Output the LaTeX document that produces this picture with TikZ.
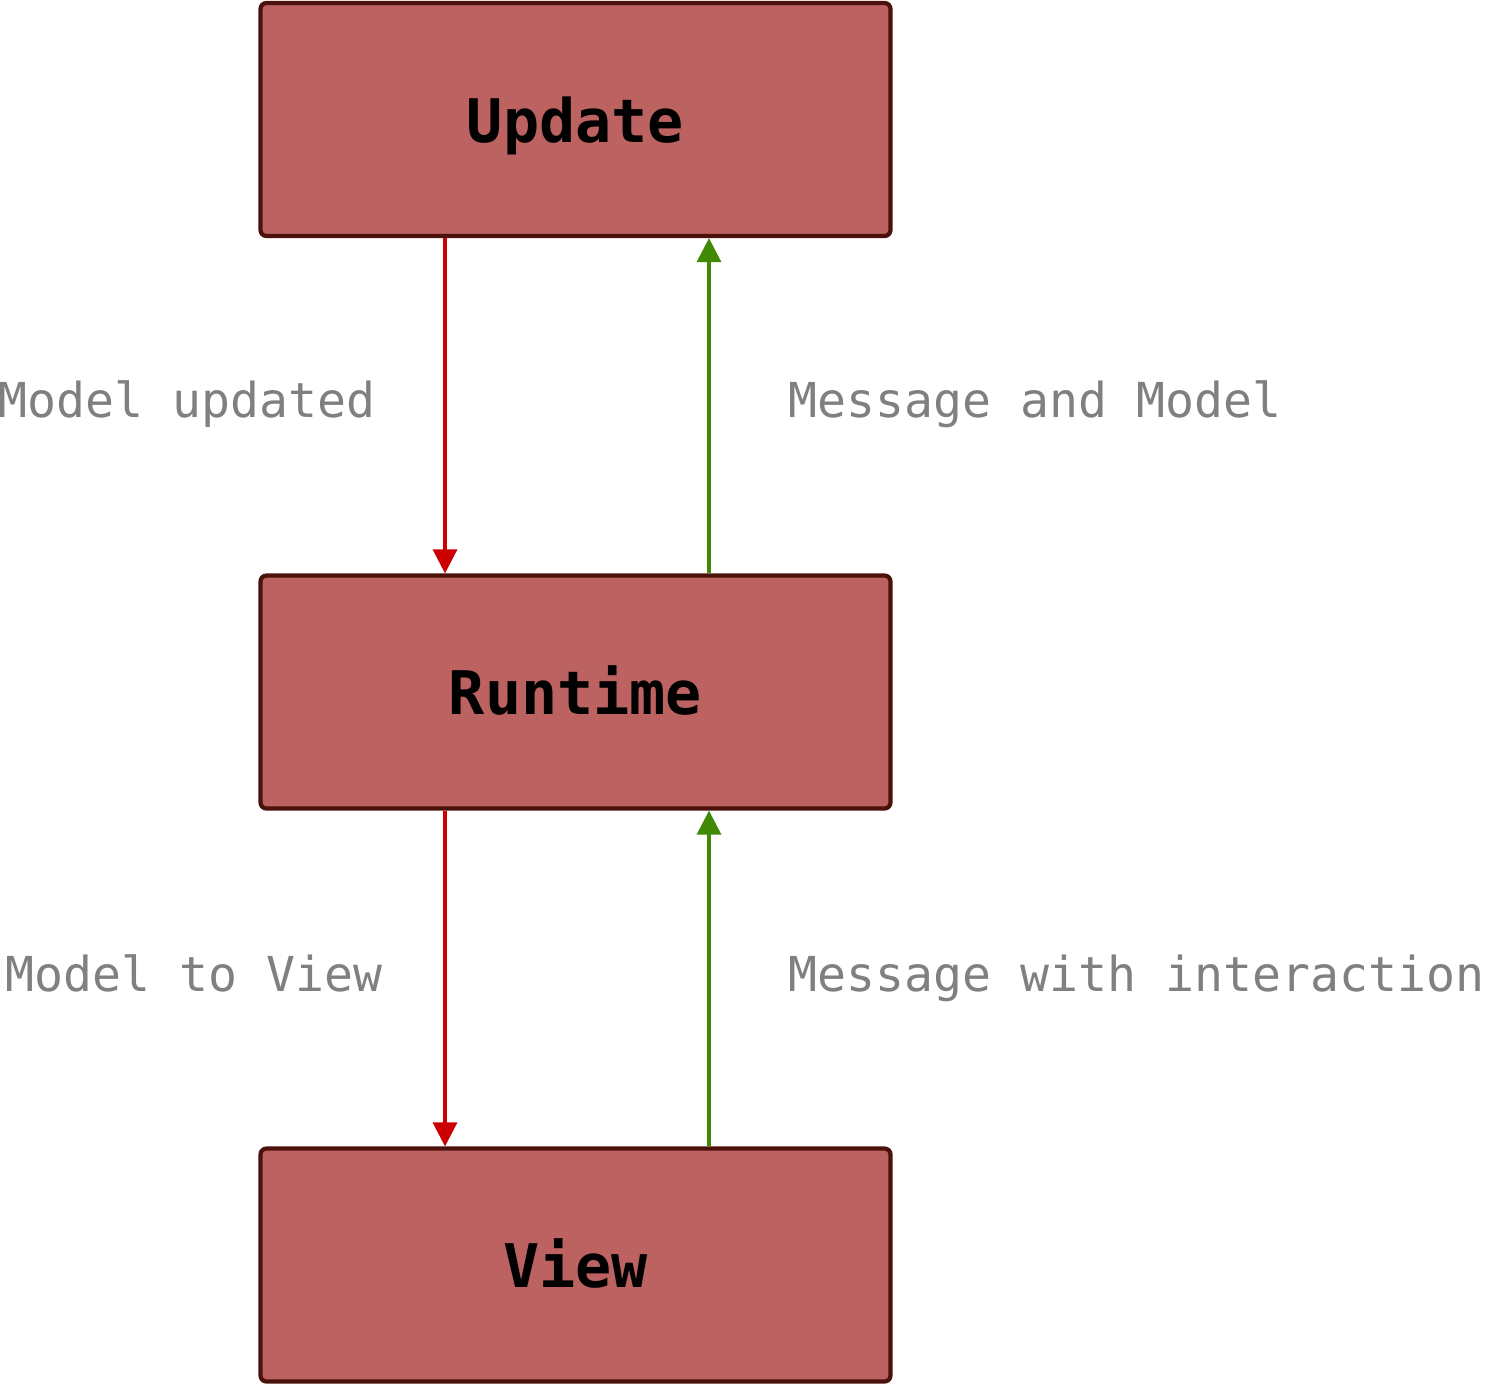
\documentclass[tikz,border=0pt]{standalone}
\usepackage{fontspec}
\setmonofont{DejaVu Sans Mono}
\usetikzlibrary{arrows.meta}
\definecolor{boxfill}{RGB}{188,98,96}
\definecolor{boxline}{RGB}{74,18,10}
\definecolor{downred}{RGB}{204,0,0}
\definecolor{upgreen}{RGB}{64,137,4}
\definecolor{labelgray}{RGB}{128,128,128}
\begin{document}
\begin{tikzpicture}[
	stage/.style={draw=boxline, fill=boxfill, line width=1.2pt, rounded corners=0.06cm,
		minimum width=6.30cm, minimum height=2.33cm, inner sep=0pt},
	stagetext/.style={anchor=base, font=\fontsize{17.1}{20}\selectfont\ttfamily\bfseries},
	flowlabel/.style={anchor=base west, text=labelgray, inner sep=0pt,
		font=\fontsize{13.7}{16}\selectfont\ttfamily},
	downarrow/.style={draw=downred, line width=0.95pt, -{Triangle[length=0.24cm, width=0.24cm]}},
	uparrow/.style={draw=upgreen, line width=0.95pt, -{Triangle[length=0.24cm, width=0.24cm]}}
	]
		\useasboundingbox (0,0) rectangle (14.99,-13.85);
		
		% Draw boxes
		\node[stage] (update) at (5.755,-1.195) {};
		\node[stage] (runtime) at (5.755,-6.92) {};
		\node[stage] (view) at (5.755,-12.65) {};
		
		% Box texts
		\node[stagetext] (updatetext) at (5.755,-1.42) {Update};
		\node[stagetext] (runtimetext) at (5.755,-7.14) {Runtime};
		\node[stagetext] (viewtext) at (5.755,-12.87) {View};
		
		% Define arrow columns
		\coordinate (redx) at (4.45,0);
		\coordinate (greenx) at (7.09,0);
		
		% Draw arrows
		\draw[downarrow] (update.south -| redx) -- (runtime.north -| redx);
		\draw[uparrow] (runtime.north -| greenx) -- (update.south -| greenx);
		\draw[downarrow] (runtime.south -| redx) -- (view.north -| redx);
		\draw[uparrow] (view.north -| greenx) -- (runtime.south -| greenx);
		
		% Draw labels
		\node[flowlabel] (modelupdated) at (-0.02,-4.17) {Model updated};
		\node[flowlabel] (messagemodel) at (7.88,-4.17) {Message and Model};
		\node[flowlabel] (modeltoview) at (0.05,-9.91) {Model to View};
		\node[flowlabel] (messageinteraction) at (7.88,-9.91) {Message with interaction};
		
	\end{tikzpicture}
\end{document}
